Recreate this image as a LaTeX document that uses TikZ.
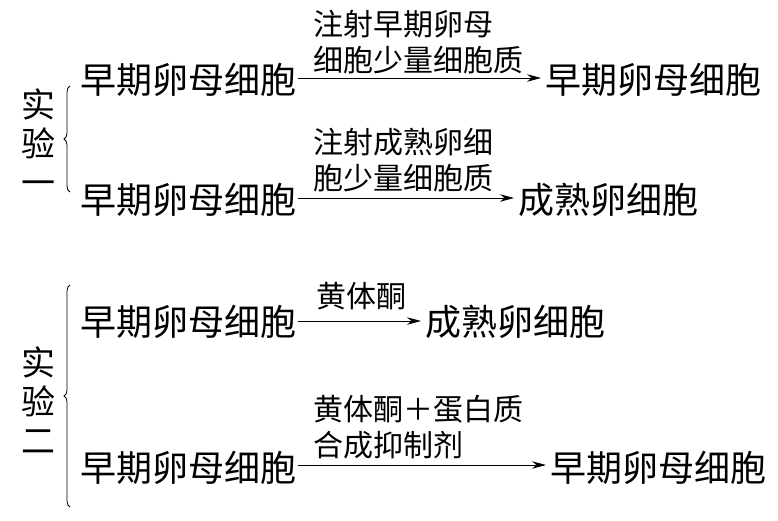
\documentclass[tikz,border=0pt]{standalone}
\usepackage{fontspec}
\setmainfont{Noto Sans CJK SC}
\usetikzlibrary{arrows.meta,decorations.pathreplacing}
\begin{document}
\begin{tikzpicture}[x=1pt,y=-1pt,
  main/.style={inner sep=0pt,anchor=west,font=\fontsize{36}{36}\selectfont},
  lab/.style={inner sep=0pt,anchor=south west,align=left,font=\fontsize{30}{35.5}\selectfont},
  side/.style={inner sep=0pt,align=center,font=\fontsize{34}{39}\selectfont},
  arr/.style={line width=0.9pt,-{Stealth[length=14pt,width=7.5pt]},shorten <=2pt,shorten >=4pt},
  brc/.style={line width=0.8pt,decorate,decoration={brace,amplitude=6pt,raise=0pt}}]
\useasboundingbox (0,0) rectangle (778,520);
% experiment one
\node[side] (s1) at (38,142) {实\\验\\一};
\draw[brc] (70,192) -- (70,86);
\node[main] (a1) at (80,80) {早期卵母细胞};
\node[main] (b1) at (545,80) {早期卵母细胞};
\draw[arr] ([yshift=2pt]a1.east) -- ([yshift=2pt]b1.west);
\node[lab] (l1) at (313,74) {注射早期卵母\\细胞少量细胞质};
\node[main] (a2) at (80,200) {早期卵母细胞};
\node[main] (b2) at (518,200) {成熟卵细胞};
\draw[arr] ([yshift=2pt]a2.east) -- ([yshift=2pt]b2.west);
\node[lab] (l2) at (313,192) {注射成熟卵细\\胞少量细胞质};
% experiment two
\node[side] (s2) at (38,400) {实\\验\\二};
\draw[brc] (70,507) -- (70,285);
\node[main] (a3) at (80,322) {早期卵母细胞};
\node[main] (b3) at (425,322) {成熟卵细胞};
\draw[arr] ([yshift=1pt]a3.east) -- ([yshift=1pt]b3.west);
\node[lab] (l3) at (316,310) {黄体酮};
\node[main] (a4) at (80,468) {早期卵母细胞};
\node[main] (b4) at (550,468) {早期卵母细胞};
\draw[arr] ([yshift=3pt]a4.east) -- ([yshift=3pt]b4.west);
\node[lab] (l4) at (313,459) {黄体酮＋蛋白质\\合成抑制剂};
\end{tikzpicture}
\end{document}
